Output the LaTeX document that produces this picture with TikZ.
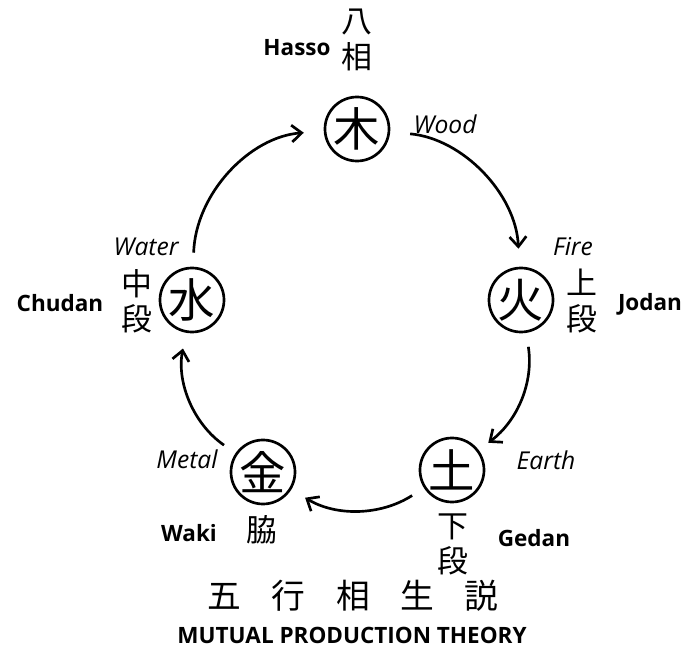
\documentclass[tikz,border=0pt]{standalone}
\usepackage{fontspec}
\setmainfont{Open Sans}
\newfontfamily\jpfont{Noto Sans CJK JP}
\usetikzlibrary{positioning,arrows.meta}

\begin{document}
\begin{tikzpicture}[
  x=0.025cm, y=0.025cm,
  >={Straight Barb[length=2.5mm,width=4.2mm]},
  line width=1.9pt,
  element/.style={draw, circle, minimum size=16mm, inner sep=0pt,
    font=\jpfont\fontsize{33}{33}\selectfont},
  stance/.style={font=\jpfont\fontsize{22}{25}\selectfont, align=center, inner sep=0pt},
  romaji/.style={font=\bfseries\fontsize{16}{19}\selectfont, inner sep=0pt},
  english/.style={font=\itshape\fontsize{17.5}{20}\selectfont, inner sep=0pt},
  flow/.style={->, shorten <=3.5mm, shorten >=4mm}
]
\useasboundingbox (0,0) rectangle (691,-657);

% the five elements
\node[element] (wood)  at (357,-129) {木};
\node[element] (fire)  at (521,-300) {火};
\node[element] (earth) at (452,-470) {土};
\node[element] (metal) at (263,-472) {金};
\node[element] (water) at (192,-300) {水};

% names and stances
\node[english] (woodname)  at (445,-124) {Wood};
\node[stance]  (hassok)    at (357,-40)  {八\\相};
\node[romaji]  (hasso)     at (297,-48)  {Hasso};

\node[english] (firename)  at (573,-247) {Fire};
\node[stance]  (jodank)    at (582,-301) {上\\段};
\node[romaji]  (jodan)     at (650,-304) {Jodan};

\node[english] (earthname) at (546,-460) {Earth};
\node[stance]  (gedank)    at (453,-544) {下\\段};
\node[romaji]  (gedan)     at (534,-538) {Gedan};

\node[english] (metalname) at (187,-459) {Metal};
\node[stance]  (wakik)     at (262,-530) {脇};
\node[romaji]  (waki)      at (189,-533) {Waki};

\node[english] (watername) at (146,-247) {Water};
\node[stance]  (chudank)   at (137,-301) {中\\段};
\node[romaji]  (chudan)    at (60,-303)  {Chudan};

% title
\node[font=\jpfont\fontsize{24}{24}\selectfont, inner sep=0pt] (titlek) at (353,-596)
  {五\hspace{0.9em}行\hspace{0.9em}相\hspace{0.9em}生\hspace{0.9em}説};
\node[romaji] (title) at (352,-635) {MUTUAL PRODUCTION THEORY};

% production cycle
\draw[flow, shorten >=5mm] (water) to[bend left=42] (wood);
\draw[flow, shorten <=5mm, shorten >=4.5mm] (wood) to[bend left=41] (fire);
\draw[flow, shorten >=3mm] (fire) to[bend left=31] (earth);
\draw[flow] (earth) to[bend left=32] (metal);
\draw[flow] (metal) to[bend left=33] (water);

\end{tikzpicture}
\end{document}
